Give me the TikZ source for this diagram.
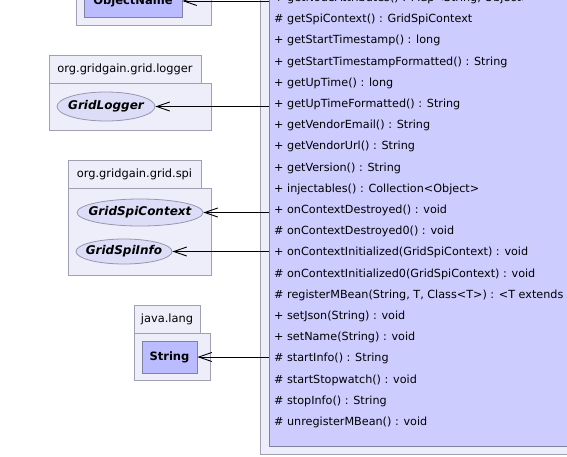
\documentclass[tikz,border=0pt]{standalone}
\usepackage{fontspec}
\setmainfont{DejaVu Sans}
\usetikzlibrary{arrows.meta,shapes.geometric}
\definecolor{pkgfill}{RGB}{238,238,250}
\definecolor{pkgdraw}{RGB}{160,160,178}
\definecolor{clsfill}{RGB}{204,204,255}
\definecolor{clsdraw}{RGB}{130,130,160}
\definecolor{boxfill}{RGB}{187,187,255}
\definecolor{ellfill}{RGB}{221,221,248}
\definecolor{elldraw}{RGB}{150,150,175}
\begin{document}
\begin{tikzpicture}[x=1pt,y=-1pt,
  pkg/.style={draw=pkgdraw,fill=pkgfill,line width=0.8pt,inner sep=0pt,font=\fontsize{11.4}{13}\selectfont},
  clsbox/.style={draw=clsdraw,fill=boxfill,line width=0.8pt,inner sep=0pt,font=\bfseries\fontsize{11.5}{13}\selectfont},
  iface/.style={ellipse,draw=elldraw,fill=ellfill,line width=0.8pt,inner sep=0pt,font=\bfseries\itshape\fontsize{12}{14}\selectfont},
  member/.style={anchor=base west,inner sep=0pt,font=\fontsize{11.2}{13}\selectfont},
  dep/.style={-{Straight Barb[length=13pt,width=9pt,line width=0.9pt]},line width=0.9pt,black}]
\useasboundingbox (0,0) rectangle (567,456);
\clip (0,0) rectangle (567,456);
% big class box
\node[draw=pkgdraw,fill=pkgfill,line width=0.8pt,minimum width=360,minimum height=484,inner sep=0pt] (outer) at (440,212) {};
\node[draw=clsdraw,fill=clsfill,line width=0.8pt,minimum width=351,minimum height=476,inner sep=0pt] (cls) at (444.5,208) {};
\foreach \t [count=\i from 0] in {
  {+ getNodeAttributes() : Map<String, Object>},
  {\# getSpiContext() : GridSpiContext},
  {+ getStartTimestamp() : long},
  {+ getStartTimestampFormatted() : String},
  {+ getUpTime() : long},
  {+ getUpTimeFormatted() : String},
  {+ getVendorEmail() : String},
  {+ getVendorUrl() : String},
  {+ getVersion() : String},
  {+ injectables() : Collection<Object>},
  {+ onContextDestroyed() : void},
  {\# onContextDestroyed0() : void},
  {+ onContextInitialized(GridSpiContext) : void},
  {\# onContextInitialized0(GridSpiContext) : void},
  {\# registerMBean(String, T, Class<T>) : <T extends},
  {+ setJson(String) : void},
  {+ setName(String) : void},
  {\# startInfo() : String},
  {\# startStopwatch() : void},
  {\# stopInfo() : String},
  {\# unregisterMBean() : void}}
  \node[member] (r\i) at (274,{1.5+21.2*\i}) {\t};
% ObjectName package
\node[pkg,minimum width=135,minimum height=55] (objpkg) at (143.5,-2.5) {};
\node[clsbox,minimum width=98,minimum height=32] (objn) at (133,1) {};
\node[anchor=base,inner sep=0pt,font=\bfseries\fontsize{11.5}{13}\selectfont] (objtxt) at (133,4) {ObjectName};
% logger package
\node[pkg,minimum width=152,minimum height=28] (logtab) at (125,69) {org.gridgain.grid.logger};
\node[pkg,minimum width=162,minimum height=47] (logpkg) at (130,106.5) {};
\node[iface,minimum width=98,minimum height=29] (logger) at (106,106.5) {\makebox[0pt]{GridLogger}};
% spi package
\node[pkg,minimum width=133,minimum height=28] (spitab) at (134.5,174) {org.gridgain.grid.spi};
\node[pkg,minimum width=143,minimum height=87] (spipkg) at (139.5,231.5) {};
\node[iface,minimum width=126,minimum height=27] (spictx) at (140,212.5) {\makebox[0pt]{GridSpiContext}};
\node[iface,minimum width=96,minimum height=25] (spiinfo) at (124,251.5) {\makebox[0pt]{GridSpiInfo}};
% java.lang package
\node[pkg,minimum width=66,minimum height=28] (javatab) at (167,319) {java.lang};
\node[pkg,minimum width=76,minimum height=47] (javapkg) at (172,356.5) {};
\node[clsbox,minimum width=55,minimum height=32] (string) at (169.5,357) {String};
% dependencies
\draw[dep] (cls.west |- objn.east) -- (objn.east);
\draw[dep] (cls.west |- logger.east) -- (logger.east);
\draw[dep] (cls.west |- spictx.east) -- (spictx.east);
\draw[dep] (cls.west |- spiinfo.east) -- (spiinfo.east);
\draw[dep] (cls.west |- string.east) -- (string.east);
\end{tikzpicture}
\end{document}
